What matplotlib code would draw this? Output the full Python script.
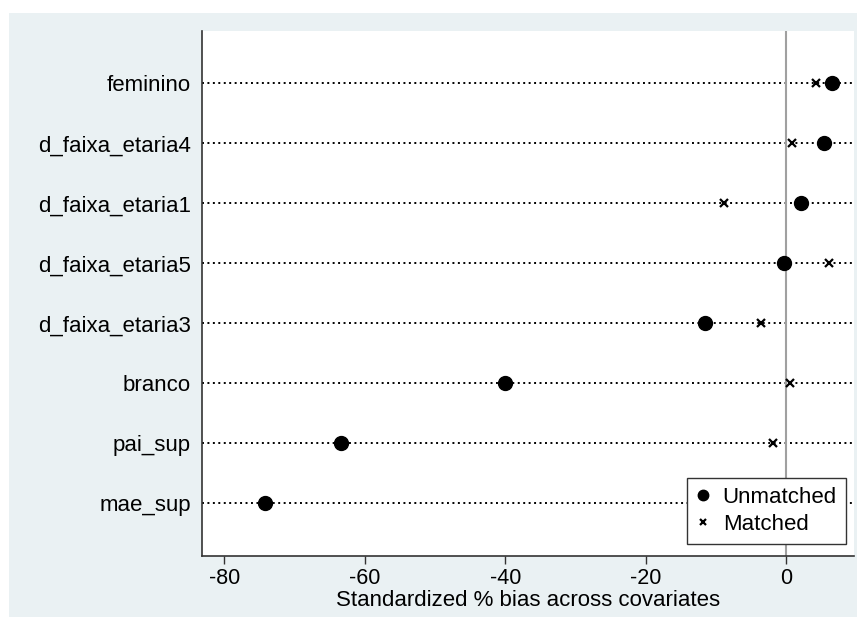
import matplotlib.pyplot as plt
from matplotlib.patches import Rectangle

# covariates, top to bottom
covariates = ['feminino', 'd_faixa_etaria4', 'd_faixa_etaria1', 'd_faixa_etaria5',
              'd_faixa_etaria3', 'branco', 'pai_sup', 'mae_sup']
unmatched = [6.5, 5.4, 2.1, -0.3, -11.6, -40.0, -63.4, -74.2]
matched = [4.3, 0.9, -8.8, 6.1, -3.5, 0.6, -1.8, 1.0]
xticks = [-80, -60, -40, -20, 0]

plt.rcParams['font.family'] = ['Liberation Sans', 'DejaVu Sans']

bg = '#eaf1f3'
fs = 15.5
fig = plt.figure(figsize=(8.57, 6.17), dpi=100)
fig.patch.set_facecolor('white')
# stata style outer region (white border at top/left)
fig.add_artist(Rectangle((9 / 857, 0), 1, 1 - 13 / 617, transform=fig.transFigure,
                         facecolor=bg, edgecolor='none', zorder=-10))

ax = fig.add_axes([202 / 857, 1 - 556 / 617, (854 - 202) / 857, (556 - 31) / 617])
ax.set_facecolor('white')

n = len(covariates)
ypos = list(range(n, 0, -1))

for y in ypos:
    ax.axhline(y, color='black', linestyle=(0, (1, 1.8)), linewidth=1.4, zorder=1)
ax.axvline(0, color='#a0a0a0', linewidth=1.5, zorder=2)

ax.plot(unmatched, ypos, 'o', color='black', markersize=10, linestyle='none',
        label='Unmatched', zorder=3)
ax.plot(matched, ypos, 'x', color='black', markersize=6, markeredgewidth=1.6,
        linestyle='none', label='Matched', zorder=3)

ax.set_xlim(-83.2, 9.7)
ax.set_ylim(0.12, 8.87)
ax.set_xticks(xticks)
ax.set_xticklabels([str(t) for t in xticks])
ax.set_yticks(ypos)
ax.set_yticklabels(covariates)
ax.tick_params(axis='x', length=6, width=1, labelsize=fs, pad=3, color='#333333')
ax.tick_params(axis='y', length=0, labelsize=16, pad=8)

for side in ['top', 'right']:
    ax.spines[side].set_visible(False)
for side in ['left', 'bottom']:
    ax.spines[side].set_color('#333333')
    ax.spines[side].set_linewidth(1.2)

ax.set_xlabel('Standardized % bias across covariates', fontsize=16, labelpad=0)

leg = ax.legend(loc='lower right', bbox_to_anchor=(0.994, 0.015), fontsize=16,
                frameon=True, fancybox=False, framealpha=1, handlelength=0.6,
                handletextpad=0.6, borderpad=0.4, labelspacing=0.25,
                markerscale=0.75, borderaxespad=0.2)
leg.get_frame().set_edgecolor('#333333')
leg.get_frame().set_linewidth(1.0)
leg.set_zorder(5)

fig.savefig('out.png', dpi=100, facecolor=fig.get_facecolor())
